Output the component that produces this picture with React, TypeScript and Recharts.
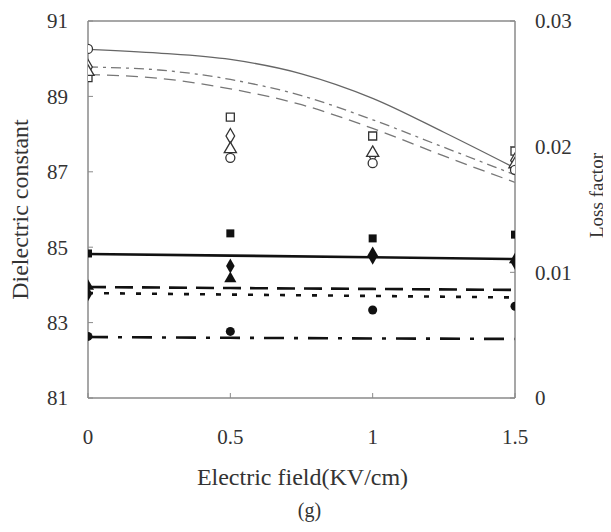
import React from 'react';
import { ComposedChart, Line, Scatter, XAxis, YAxis, ReferenceLine, Label } from 'recharts';

// Electric field (KV/cm)
const fieldX = [0, 0.5, 1, 1.5];
const xTicks = [0, 0.5, 1, 1.5];
const leftTicks = [81, 83, 85, 87, 89, 91];
const rightTicks = [0, 0.01, 0.02, 0.03];

// Dielectric constant fitted curves
const curveX = [0, 0.25, 0.5, 0.75, 1, 1.25, 1.5];
const dcCurveSolid = [90.25, 90.15, 89.98, 89.6, 88.95, 88.05, 87.1];
const dcCurveDashed = [89.78, 89.7, 89.45, 89.02, 88.38, 87.65, 86.92];
const dcCurveDashDot = [89.58, 89.48, 89.2, 88.78, 88.15, 87.42, 86.72];

// Dielectric constant measured points (open markers)
const dcCircle = [90.26, 87.37, 87.23, 87.05];
const dcDiamond = [89.78, 87.95, 87.45, 87.3];
const dcTriangle = [89.65, 87.6, 87.5, 87.2];
const dcSquare = [89.5, 88.45, 87.95, 87.55];

// Loss factor fitted lines
const lfLineSolid = [0.01146, 0.01133, 0.0112, 0.01106];
const lfLineDashed = [0.00883, 0.00875, 0.00868, 0.0086];
const lfLineDotted = [0.00835, 0.00823, 0.00812, 0.008];
const lfLineDashDot = [0.00485, 0.00479, 0.00474, 0.0047];

// Loss factor measured points (filled markers)
const lfSquare = [0.0115, 0.0131, 0.0127, 0.013];
const lfTriangle = [0.0089, 0.0095, 0.0115, 0.011];
const lfDiamond = [0.0083, 0.0105, 0.0112, 0.0108];
const lfCircle = [0.0049, 0.0053, 0.007, 0.0073];

const pts = (xs: number[], ys: number[]) => xs.map((x, i) => ({ x, y: ys[i] }));

const FONT = 'Liberation Serif, Times New Roman, serif';
const AXIS = '#8a8a8a';
const TXT = '#333';

const tickStyle = { fontSize: 21, fill: TXT, fontFamily: FONT };

export default function App() {
  return (
    <div style={{ width: 600, height: 516, fontFamily: FONT, overflow: 'hidden' }}>
      <ComposedChart width={600} height={516} margin={{ top: 13, right: 5, left: 0, bottom: 66 }}>
        <XAxis
          dataKey="x"
          type="number"
          domain={[0, 1.5]}
          ticks={xTicks}
          allowDataOverflow
          tickSize={-5}
          tickMargin={36}
          height={60}
          axisLine={{ stroke: AXIS, strokeWidth: 1.5 }}
          tickLine={{ stroke: AXIS, strokeWidth: 1 }}
          tick={tickStyle}
          tickFormatter={(v: number) => String(v)}
        >
          <Label
            content={(props: any) => {
              const vb = props.viewBox || { x: 80, y: 390, width: 427 };
              const cx = vb.x + vb.width / 2;
              return (
                <g fontFamily={FONT} fill={TXT}>
                  <text x={cx + 1} y={vb.y + 79} textAnchor="middle" dominantBaseline="central" fontSize={24} fill={TXT}>
                    Electric field(KV/cm)
                  </text>
                  <text x={cx + 8} y={vb.y + 112} textAnchor="middle" dominantBaseline="central" fontSize={20} fill={TXT}>
                    (g)
                  </text>
                </g>
              );
            }}
          />
        </XAxis>
        <YAxis
          yAxisId="left"
          type="number"
          domain={[81, 91]}
          ticks={leftTicks}
          allowDataOverflow
          width={80}
          tickSize={-5}
          tickMargin={25}
          axisLine={{ stroke: AXIS, strokeWidth: 1.5 }}
          tickLine={{ stroke: AXIS, strokeWidth: 1 }}
          tick={tickStyle}
        >
          <Label
            content={(props: any) => {
              const vb = props.viewBox || { x: 0, y: 13, width: 80, height: 377 };
              const cy = vb.y + vb.height / 2;
              const cx = vb.x + 12;
              return (
                <text
                  x={cx}
                  y={cy}
                  transform={`rotate(-90 ${cx} ${cy})`}
                  textAnchor="middle"
                  dominantBaseline="central"
                  fontSize={24}
                  fontFamily={FONT}
                  fill={TXT}
                >
                  Dielectric constant
                </text>
              );
            }}
          />
        </YAxis>
        <YAxis
          yAxisId="right"
          orientation="right"
          type="number"
          domain={[0, 0.03]}
          ticks={rightTicks}
          allowDataOverflow
          width={88}
          tickSize={-5}
          tickMargin={25}
          axisLine={{ stroke: AXIS, strokeWidth: 1.5 }}
          tickLine={{ stroke: AXIS, strokeWidth: 1 }}
          tick={tickStyle}
          tickFormatter={(v: number) => String(v)}
        >
          <Label
            content={(props: any) => {
              const vb = props.viewBox || { x: 507, y: 13, width: 88, height: 377 };
              const cy = vb.y + vb.height / 2 - 14;
              const cx = vb.x + 81;
              return (
                <text
                  x={cx}
                  y={cy}
                  transform={`rotate(-90 ${cx} ${cy})`}
                  textAnchor="middle"
                  dominantBaseline="central"
                  fontSize={19}
                  fontFamily={FONT}
                  fill={TXT}
                >
                  Loss factor
                </text>
              );
            }}
          />
        </YAxis>
        <ReferenceLine yAxisId="left" y={91} stroke={AXIS} strokeWidth={1.5} />

        {/* dielectric constant curves */}
        <Line yAxisId="left" data={pts(curveX, dcCurveSolid)} dataKey="y" type="monotone" stroke="#666" strokeWidth={1.3} dot={false} isAnimationActive={false} />
        <Line yAxisId="left" data={pts(curveX, dcCurveDashed)} dataKey="y" type="monotone" stroke="#777" strokeWidth={1.3} strokeDasharray="10 5 3 5" dot={false} isAnimationActive={false} />
        <Line yAxisId="left" data={pts(curveX, dcCurveDashDot)} dataKey="y" type="monotone" stroke="#777" strokeWidth={1.3} strokeDasharray="12 7" dot={false} isAnimationActive={false} />

        {/* loss factor lines */}
        <Line yAxisId="right" data={pts(fieldX, lfLineSolid)} dataKey="y" type="linear" stroke="#111" strokeWidth={2.6} dot={false} isAnimationActive={false} />
        <Line yAxisId="right" data={pts(fieldX, lfLineDashed)} dataKey="y" type="linear" stroke="#111" strokeWidth={2.6} strokeDasharray="18 9" dot={false} isAnimationActive={false} />
        <Line yAxisId="right" data={pts(fieldX, lfLineDotted)} dataKey="y" type="linear" stroke="#111" strokeWidth={2.6} strokeDasharray="5 11" dot={false} isAnimationActive={false} />
        <Line yAxisId="right" data={pts(fieldX, lfLineDashDot)} dataKey="y" type="linear" stroke="#111" strokeWidth={2.6} strokeDasharray="20 10 4 10" dot={false} isAnimationActive={false} />

        {/* dielectric constant points (open) */}
        <Scatter yAxisId="left" data={pts(fieldX, dcSquare)} dataKey="y" shape="square" fill="#fff" stroke="#333" strokeWidth={1.3} isAnimationActive={false} />
        <Scatter yAxisId="left" data={pts(fieldX, dcDiamond)} dataKey="y" shape="diamond" fill="#fff" stroke="#333" strokeWidth={1.3} isAnimationActive={false} />
        <Scatter yAxisId="left" data={pts(fieldX, dcTriangle)} dataKey="y" shape="triangle" fill="#fff" stroke="#333" strokeWidth={1.3} isAnimationActive={false} />
        <Scatter yAxisId="left" data={pts(fieldX, dcCircle)} dataKey="y" shape="circle" fill="#fff" stroke="#333" strokeWidth={1.3} isAnimationActive={false} />

        {/* loss factor points (filled) */}
        <Scatter yAxisId="right" data={pts(fieldX, lfSquare)} dataKey="y" shape="square" fill="#111" isAnimationActive={false} />
        <Scatter yAxisId="right" data={pts(fieldX, lfTriangle)} dataKey="y" shape="triangle" fill="#111" isAnimationActive={false} />
        <Scatter yAxisId="right" data={pts(fieldX, lfDiamond)} dataKey="y" shape="diamond" fill="#111" isAnimationActive={false} />
        <Scatter yAxisId="right" data={pts(fieldX, lfCircle)} dataKey="y" shape="circle" fill="#111" isAnimationActive={false} />
      </ComposedChart>
    </div>
  );
}
